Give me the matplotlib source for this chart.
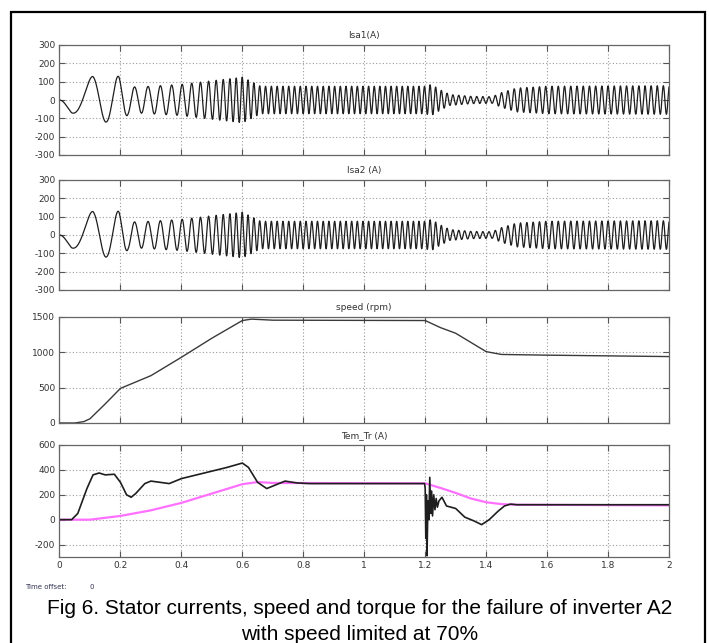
import numpy as np
import matplotlib
matplotlib.use("Agg")
import matplotlib.pyplot as plt
from matplotlib.patches import Rectangle

plt.rcParams["axes.unicode_minus"] = False

# --- values ---
# stator current: envelope (A) and electrical frequency (Hz) keypoints
cur_env_t = [0, 0.04, 0.11, 0.155, 0.195, 0.225, 0.25, 0.3, 0.4, 0.5, 0.58, 0.6, 0.63, 0.66,
             1.2, 1.22, 1.25, 1.28, 1.35, 1.42, 1.45, 1.5, 1.6, 2.0]
cur_env_a = [0, 70, 130, 120, 130, 80, 70, 75, 85, 105, 120, 125, 100, 75,
             75, 85, 55, 30, 20, 18, 40, 65, 75, 78]
cur_freq_t = [0, 0.08, 0.13, 0.175, 0.21, 0.24, 0.3, 0.4, 0.5, 0.6, 1.2, 1.3, 1.45, 2.0]
cur_freq_hz = [6.2, 7.1, 11.1, 12.5, 16.7, 21.7, 24, 30, 40, 52, 55, 52, 48, 50]

speed_t = [0, 0.05, 0.08, 0.1, 0.15, 0.2, 0.3, 0.4, 0.5, 0.6, 0.63, 0.7,
           1.2, 1.25, 1.3, 1.4, 1.45, 1.6, 1.8, 2.0]
speed_rpm = [0, 0, 20, 60, 270, 490, 670, 930, 1200, 1450, 1470, 1455,
             1450, 1350, 1270, 1010, 970, 960, 950, 940]

tem_t = [0, 0.04, 0.06, 0.09, 0.11, 0.13, 0.15, 0.18, 0.2, 0.22, 0.235, 0.25, 0.28, 0.3,
         0.33, 0.36, 0.4, 0.45, 0.5, 0.55, 0.6, 0.62, 0.65, 0.68, 0.7, 0.74, 0.78, 0.82,
         1.198, 1.2, 1.202, 1.204, 1.206, 1.209, 1.212, 1.215, 1.218, 1.221, 1.224, 1.228,
         1.232, 1.236, 1.24, 1.245, 1.255, 1.27, 1.3, 1.33, 1.36, 1.385, 1.41, 1.44, 1.46,
         1.48, 1.5, 2.0]
tem_val = [0, 0, 50, 250, 360, 375, 360, 365, 300, 200, 180, 210, 290, 310,
           300, 290, 330, 360, 390, 420, 455, 420, 300, 250, 270, 310, 295, 290,
           290, 250, -150, 200, -290, 150, 0, 340, 50, 230, 30, 200,
           80, 170, 100, 150, 180, 110, 90, 20, -10, -40, 0, 70, 110,
           125, 120, 120]

tr_t = [0, 0.1, 0.2, 0.3, 0.4, 0.5, 0.6, 0.65, 0.7, 1.2, 1.25, 1.3, 1.35, 1.4, 1.45, 1.5, 2.0]
tr_val = [0, 0, 30, 75, 135, 210, 285, 302, 295, 292, 255, 215, 170, 140, 125, 120, 115]

titles = ["Isa1(A)", "Isa2 (A)", "speed (rpm)", "Tem_Tr (A)"]
xticks = [0, 0.2, 0.4, 0.6, 0.8, 1, 1.2, 1.4, 1.6, 1.8, 2]
xticklabels = ["0", "0.2", "0.4", "0.6", "0.8", "1", "1.2", "1.4", "1.6", "1.8", "2"]

# build the current waveform from the envelope and frequency
t = np.linspace(0, 2, 20001)
freq = np.interp(t, cur_freq_t, cur_freq_hz)
phase = 2 * np.pi * np.concatenate([[0], np.cumsum(0.5 * (freq[1:] + freq[:-1]) * np.diff(t))])
isa = -np.interp(t, cur_env_t, cur_env_a) * np.sin(phase)

W, H = 709, 643
fig = plt.figure(figsize=(W / 100, H / 100), dpi=100)

def px_axes(top, bottom):
    return fig.add_axes([59.5 / W, 1 - bottom / H, (669 - 59.5) / W, (bottom - top) / H])

def style(ax, title, yticks, ylim, show_x=False):
    ax.set_xlim(0, 2)
    ax.set_ylim(*ylim)
    ax.set_yticks(yticks)
    ax.set_xticks(xticks)
    if show_x:
        ax.set_xticklabels(xticklabels)
    else:
        ax.set_xticklabels([])
    ax.tick_params(direction="in", top=True, right=True, length=4, width=0.8,
                   labelsize=6.5, pad=3, colors="#555555", labelcolor="#333333")
    ax.grid(True, color="#9a9a9a", linestyle=(0, (1, 2)), linewidth=0.8)
    for sp in ax.spines.values():
        sp.set_color("#666666")
        sp.set_linewidth(0.9)
    ax.set_title(title, fontsize=6.5, color="#333333", pad=5)

ax1 = px_axes(45, 155)
ax1.plot(t, isa, color="#1e1e1e", lw=0.9)
style(ax1, titles[0], [-300, -200, -100, 0, 100, 200, 300], (-300, 300))

ax2 = px_axes(180, 290)
ax2.plot(t, isa, color="#1e1e1e", lw=0.9)
style(ax2, titles[1], [-300, -200, -100, 0, 100, 200, 300], (-300, 300))

ax3 = px_axes(317, 423)
ax3.plot(speed_t, speed_rpm, color="#3a3a3a", lw=1.0)
style(ax3, titles[2], [0, 500, 1000, 1500], (0, 1500))

ax4 = px_axes(445, 557)
ax4.plot(tr_t, tr_val, color="#ff70ff", lw=1.6)
ax4.plot(tem_t, tem_val, color="#1e1e1e", lw=1.2)
style(ax4, titles[3], [-200, 0, 200, 400, 600], (-300, 600), show_x=True)

# frame around the whole figure
fig.patches.append(Rectangle((11 / W, -0.05), (705 - 11) / W, 1.05 - 12 / H,
                             transform=fig.transFigure, fill=False,
                             edgecolor="black", linewidth=1.6))

fig.text(25 / W, 1 - 587 / H, "Time offset:", fontsize=5, color="#333355", va="center")
fig.text(90 / W, 1 - 587 / H, "0", fontsize=5, color="#333355", va="center")

cap_font = ["Liberation Sans Narrow", "Liberation Sans", "DejaVu Sans"]
fig.text(360 / W, 1 - 609 / H,
         "Fig 6. Stator currents, speed and torque for the failure of inverter A2",
         fontsize=15, family=cap_font, ha="center", va="center")
fig.text(360 / W, 1 - 635 / H, "with speed limited at 70%",
         fontsize=15, family=cap_font, ha="center", va="center")

fig.savefig("out.png", dpi=100)
